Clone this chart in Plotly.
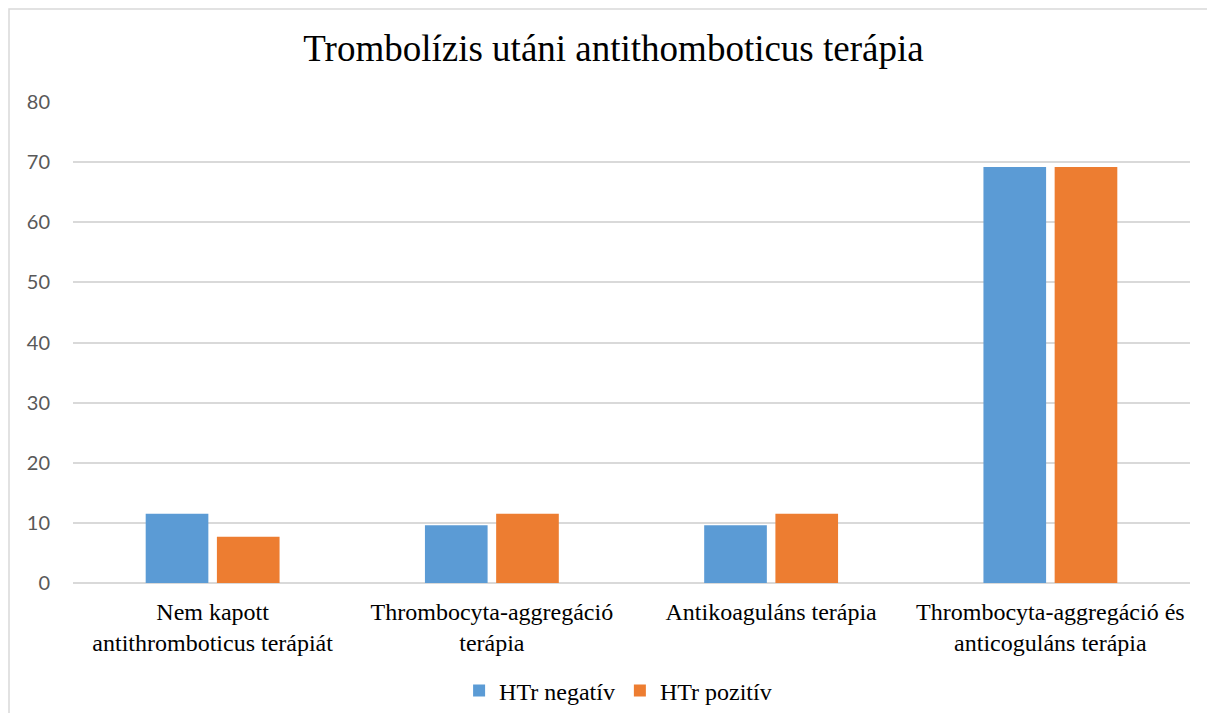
import plotly.graph_objects as go

categories = [
    "Nem kapott<br>antithromboticus terápiát",
    "Thrombocyta-aggregáció<br>terápia",
    "Antikoaguláns terápia",
    "Thrombocyta-aggregáció és<br>anticoguláns terápia",
]
htr_negativ = [11.5, 9.6, 9.6, 69.2]
htr_pozitiv = [7.7, 11.5, 11.5, 69.2]
y_ticks = [0, 10, 20, 30, 40, 50, 60, 70, 80]

fig = go.Figure()
fig.add_trace(go.Bar(x=categories, y=htr_negativ, name="HTr negatív",
                     marker=dict(color="#5b9bd5", line=dict(width=0))))
fig.add_trace(go.Bar(x=categories, y=htr_pozitiv, name="HTr pozitív",
                     marker=dict(color="#ed7d31", line=dict(width=0))))

# chart border (left + top visible in the reference)
fig.add_shape(type="rect", xref="paper", yref="paper",
              x0=(9 - 73) / 1117, x1=(1240 - 73) / 1117,
              y0=-0.4, y1=(583 - 9) / 481,
              line=dict(color="#d9d9d9", width=1.5), layer="below")

# page has an 8px body margin all round, so keep the figure inside 1215x721
fig.update_layout(
    width=1199, height=705,
    margin=dict(l=65, r=17, t=94, b=130, autoexpand=False),
    paper_bgcolor="white", plot_bgcolor="white",
    title=dict(text="Trombolízis utáni antithomboticus terápia",
               x=0.505, xanchor="center", y=0.943, yanchor="middle",
               font=dict(family="Liberation Serif", size=37, color="black")),
    barmode="group", bargap=0.49, bargroupgap=0.12,
    legend=dict(orientation="h", x=0.488, xanchor="center", y=-0.2245, yanchor="middle",
                font=dict(family="Liberation Serif", size=24, color="black"),
                itemwidth=30, traceorder="normal"),
    showlegend=True,
)
fig.update_yaxes(range=[0, 80], tickvals=y_ticks, showgrid=True,
                 gridcolor="#d9d9d9", gridwidth=1.5, zeroline=True,
                 zerolinecolor="#d9d9d9", zerolinewidth=1.5,
                 tickfont=dict(family="Lato", size=20, color="#595959"),
                 ticks="", ticklabelstandoff=22)
fig.update_xaxes(showline=False, ticks="",
                 tickfont=dict(family="Liberation Serif", size=24, color="black"),
                 ticklabelstandoff=12)

fig.write_html("out.html")
